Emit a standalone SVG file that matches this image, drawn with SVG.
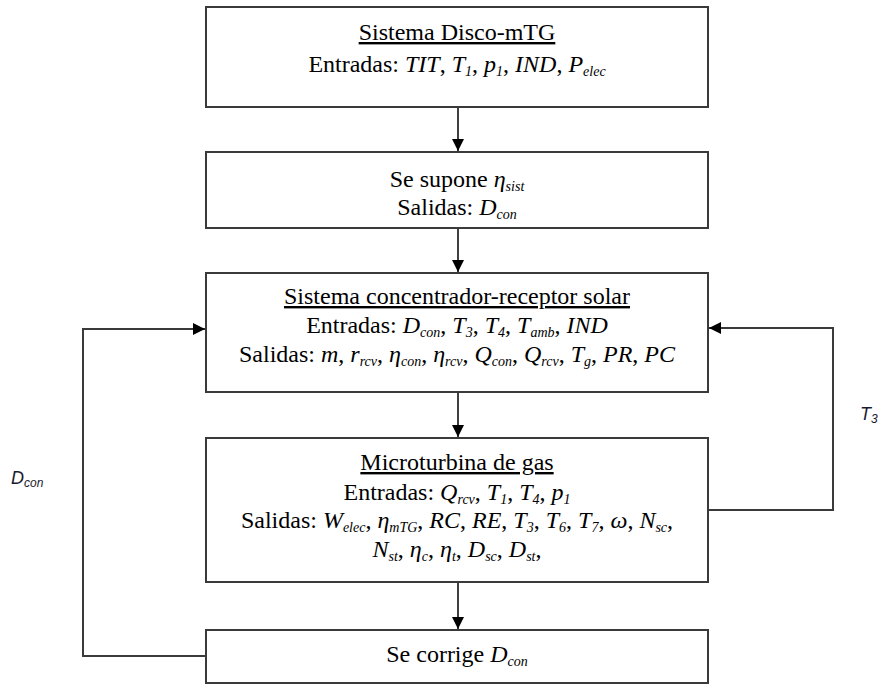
<svg xmlns="http://www.w3.org/2000/svg" width="878" height="684" viewBox="0 0 878 684">
<style>
.box{fill:#fff;stroke:#3a3a3a;stroke-width:2}
.t{font-family:"Liberation Serif","Times New Roman",serif;font-size:24px;fill:#000;text-anchor:middle}
.u{text-decoration:underline}
.i{font-style:italic}
.s{font-style:italic;font-size:14px}
.line{fill:none;stroke:#000;stroke-width:1.5}
.fb{fill:none;stroke:#3a3a3a;stroke-width:2}
.lbl{font-family:"Liberation Sans","Open Sans",sans-serif;font-style:italic;font-size:18px;fill:#1a1a2e}
.lbls{font-size:12px}
</style>
<defs>
<marker id="ah" markerUnits="userSpaceOnUse" markerWidth="12" markerHeight="12" viewBox="0 0 12 12" refX="12" refY="6" orient="auto">
<path d="M0,0 L12,6 L0,12 Z" fill="#000"/>
</marker>
</defs>
<rect width="878" height="684" fill="#fff"/>
<g id="connectors">
<line class="line" x1="458" y1="108" x2="458" y2="151" marker-end="url(#ah)"/>
<line class="line" x1="458" y1="229" x2="458" y2="272" marker-end="url(#ah)"/>
<line class="line" x1="458" y1="393" x2="458" y2="437" marker-end="url(#ah)"/>
<line class="line" x1="458" y1="583" x2="458" y2="629" marker-end="url(#ah)"/>
<polyline class="fb" points="206,656 83,656 83,329 205,329" marker-end="url(#ah)"/>
<polyline class="fb" points="708,510 833,510 833,328 709,328" marker-end="url(#ah)"/>
<text class="lbl" x="11" y="484">D<tspan class="lbls" dy="3">con</tspan></text>
<text class="lbl" x="860" y="420">T<tspan class="lbls" dy="3">3</tspan></text>
</g>
<g id="n1">
<rect class="box" x="206" y="7" width="502" height="100"/>
<text class="t u" x="457" y="40">Sistema Disco-mTG</text>
<text class="t" x="457" y="72">Entradas: <tspan class="i">TIT</tspan>, <tspan class="i">T</tspan><tspan class="s" dy="4">1</tspan><tspan dy="-4">, </tspan><tspan class="i">p</tspan><tspan class="s" dy="4">1</tspan><tspan dy="-4">, </tspan><tspan class="i">IND</tspan>, <tspan class="i">P</tspan><tspan class="s" dy="4">elec</tspan></text>
</g>
<g id="n2">
<rect class="box" x="206" y="152" width="502" height="76"/>
<text class="t" x="457" y="187">Se supone <tspan class="i">η</tspan><tspan class="s" dy="4">sist</tspan></text>
<text class="t" x="457" y="215">Salidas: <tspan class="i">D</tspan><tspan class="s" dy="4">con</tspan></text>
</g>
<g id="n3">
<rect class="box" x="206" y="273" width="502" height="119"/>
<text class="t u" x="457" y="304">Sistema concentrador-receptor solar</text>
<text class="t" x="457" y="333">Entradas: <tspan class="i">D</tspan><tspan class="s" dy="4">con</tspan><tspan dy="-4">, </tspan><tspan class="i">T</tspan><tspan class="s" dy="4">3</tspan><tspan dy="-4">, </tspan><tspan class="i">T</tspan><tspan class="s" dy="4">4</tspan><tspan dy="-4">, </tspan><tspan class="i">T</tspan><tspan class="s" dy="4">amb</tspan><tspan dy="-4">, </tspan><tspan class="i">IND</tspan></text>
<text class="t" x="457" y="362">Salidas: <tspan class="i">m</tspan>, <tspan class="i">r</tspan><tspan class="s" dy="4">rcv</tspan><tspan dy="-4">, </tspan><tspan class="i">η</tspan><tspan class="s" dy="4">con</tspan><tspan dy="-4">, </tspan><tspan class="i">η</tspan><tspan class="s" dy="4">rcv</tspan><tspan dy="-4">, </tspan><tspan class="i">Q</tspan><tspan class="s" dy="4">con</tspan><tspan dy="-4">, </tspan><tspan class="i">Q</tspan><tspan class="s" dy="4">rcv</tspan><tspan dy="-4">, </tspan><tspan class="i">T</tspan><tspan class="s" dy="4">g</tspan><tspan dy="-4">, </tspan><tspan class="i">PR</tspan>, <tspan class="i">PC</tspan></text>
</g>
<g id="n4">
<rect class="box" x="206" y="438" width="502" height="144"/>
<text class="t u" x="457" y="470">Microturbina de gas</text>
<text class="t" x="457" y="500">Entradas: <tspan class="i">Q</tspan><tspan class="s" dy="4">rcv</tspan><tspan dy="-4">, </tspan><tspan class="i">T</tspan><tspan class="s" dy="4">1</tspan><tspan dy="-4">, </tspan><tspan class="i">T</tspan><tspan class="s" dy="4">4</tspan><tspan dy="-4">, </tspan><tspan class="i">p</tspan><tspan class="s" dy="4">1</tspan></text>
<text class="t" x="457" y="528">Salidas: <tspan class="i">W</tspan><tspan class="s" dy="4">elec</tspan><tspan dy="-4">, </tspan><tspan class="i">η</tspan><tspan class="s" dy="4">mTG</tspan><tspan dy="-4">, </tspan><tspan class="i">RC</tspan>, <tspan class="i">RE</tspan>, <tspan class="i">T</tspan><tspan class="s" dy="4">3</tspan><tspan dy="-4">, </tspan><tspan class="i">T</tspan><tspan class="s" dy="4">6</tspan><tspan dy="-4">, </tspan><tspan class="i">T</tspan><tspan class="s" dy="4">7</tspan><tspan dy="-4">, </tspan><tspan class="i">ω</tspan>, <tspan class="i">N</tspan><tspan class="s" dy="4">sc</tspan><tspan dy="-4">,</tspan></text>
<text class="t" x="457" y="557"><tspan class="i">N</tspan><tspan class="s" dy="4">st</tspan><tspan dy="-4">, </tspan><tspan class="i">η</tspan><tspan class="s" dy="4">c</tspan><tspan dy="-4">, </tspan><tspan class="i">η</tspan><tspan class="s" dy="4">t</tspan><tspan dy="-4">, </tspan><tspan class="i">D</tspan><tspan class="s" dy="4">sc</tspan><tspan dy="-4">, </tspan><tspan class="i">D</tspan><tspan class="s" dy="4">st</tspan><tspan dy="-4">,</tspan></text>
</g>
<g id="n5">
<rect class="box" x="206" y="630" width="502" height="53"/>
<text class="t" x="457" y="662">Se corrige <tspan class="i">D</tspan><tspan class="s" dy="4">con</tspan></text>
</g>
</svg>
